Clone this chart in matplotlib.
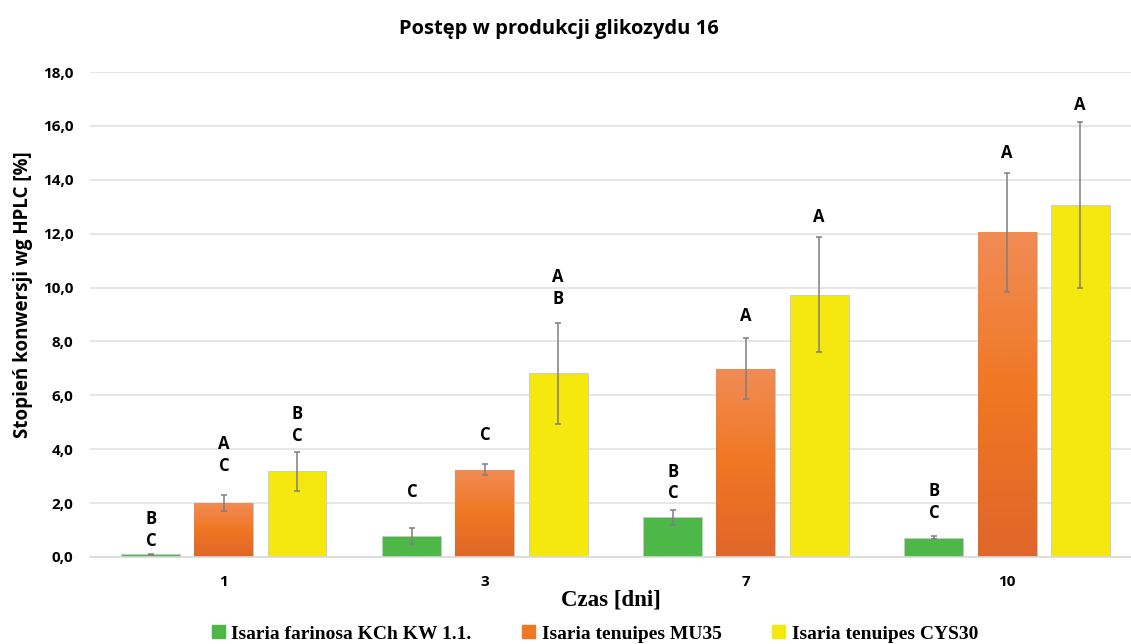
import numpy as np
import matplotlib.pyplot as plt
from matplotlib.colors import LinearSegmentedColormap
from matplotlib.patches import Patch

days = ['1', '3', '7', '10']
strains = ['Isaria farinosa KCh KW 1.1.', 'Isaria tenuipes MU35', 'Isaria tenuipes CYS30']

farinosa = [0.10, 0.78, 1.47, 0.72]
farinosa_err = [0.02, 0.28, 0.27, 0.07]
mu35 = [2.00, 3.24, 6.99, 12.05]
mu35_err = [0.30, 0.21, 1.13, 2.20]
cys30 = [3.18, 6.82, 9.74, 13.05]
cys30_err = [0.72, 1.87, 2.12, 3.08]

farinosa_letters = ['B\nC', 'C', 'B\nC', 'B\nC']
mu35_letters = ['A\nC', 'C', 'A', 'A']
cys30_letters = ['B\nC', 'A\nB', 'A', 'A']

yticks = [0, 2, 4, 6, 8, 10, 12, 14, 16, 18]

green = '#4DB848'
yellow = '#F5E80F'
orange = '#F07A24'
orange_grad = LinearSegmentedColormap.from_list(
    'orange_grad', ['#E0662A', '#F07722', '#F08C55'])

sans = ['Open Sans', 'DejaVu Sans']
serif = ['Liberation Serif', 'DejaVu Serif']

fig = plt.figure(figsize=(11.31, 6.44), dpi=100)
ax = fig.add_axes([90 / 1131, 87 / 644, 1041 / 1131, 485 / 644])

x = np.arange(len(days))
pitch = 0.28
width = 0.226
series = [
    (farinosa, farinosa_err, farinosa_letters, green, [0.14, 1.0, 0.30, 0.51]),
    (mu35, mu35_err, mu35_letters, orange, [0.76, 0.74, 0.48, 0.41]),
    (cys30, cys30_err, cys30_letters, yellow, [0.26, 0.56, 0.44, 0.30]),
]

for i, (vals, errs, letters, color, pads) in enumerate(series):
    pos = x + (i - 1) * pitch
    bars = ax.bar(pos, vals, width, color=color, edgecolor='#C8C8C8',
                  linewidth=0.6, zorder=2)
    if color == orange:
        grad = np.linspace(0, 1, 256).reshape(-1, 1)
        for b in bars:
            bx, by = b.get_x(), b.get_y()
            im = ax.imshow(grad, cmap=orange_grad, origin='lower', aspect='auto',
                           extent=[bx, bx + b.get_width(), by, by + b.get_height()],
                           zorder=2.1)
            im.set_clip_path(b)
    ax.errorbar(pos, vals, yerr=errs, fmt='none', ecolor='#7F7F7F',
                elinewidth=1.1, capsize=2.5, capthick=1.1, zorder=3)
    for p, v, e, lab, pad in zip(pos, vals, errs, letters, pads):
        ax.text(p, v + e + pad, lab, ha='center', va='bottom',
                fontsize=12, fontweight='bold', family=sans,
                linespacing=1.25, zorder=4)

ax.set_xlim(-0.513, 3.475)
ax.set_ylim(0, 18)
ax.set_yticks(yticks)
ax.set_yticklabels(['{:.1f}'.format(t).replace('.', ',') for t in yticks],
                   fontsize=11, fontweight='bold', family=sans)
ax.set_xticks(x)
ax.set_xticklabels(days, fontsize=11, fontweight='bold', family=sans)
ax.tick_params(length=0, pad=12)
ax.tick_params(axis='x', pad=13)
ax.grid(axis='y', color='#E3E3E3', linewidth=1.2, zorder=0)
ax.set_axisbelow(True)
for s in ['top', 'right', 'left']:
    ax.spines[s].set_visible(False)
ax.spines['bottom'].set_color('#D9D9D9')
ax.spines['bottom'].set_linewidth(1.2)

ax.set_ylabel('Stopień konwersji wg HPLC [%]', fontsize=13.5, fontweight='bold',
              family=sans)
ax.yaxis.set_label_coords(-0.055, 0.54)
ax.set_xlabel('Czas [dni]', fontsize=16.5, fontweight='bold', family=serif,
              labelpad=0)
fig.text(0.494, 0.955, 'Postęp w produkcji glikozydu 16', ha='center',
         va='center', fontsize=14.5, fontweight='bold', family=sans)

handles = [Patch(color=c) for c in [green, orange, yellow]]
fig.legend(handles, strains, loc='lower center', bbox_to_anchor=(0.526, -0.025),
           ncol=3, frameon=False, handlelength=0.65, handleheight=0.65,
           handletextpad=0.35, columnspacing=2.6,
           prop={'family': serif, 'weight': 'bold', 'size': 14})

fig.savefig('out.png', dpi=100)
